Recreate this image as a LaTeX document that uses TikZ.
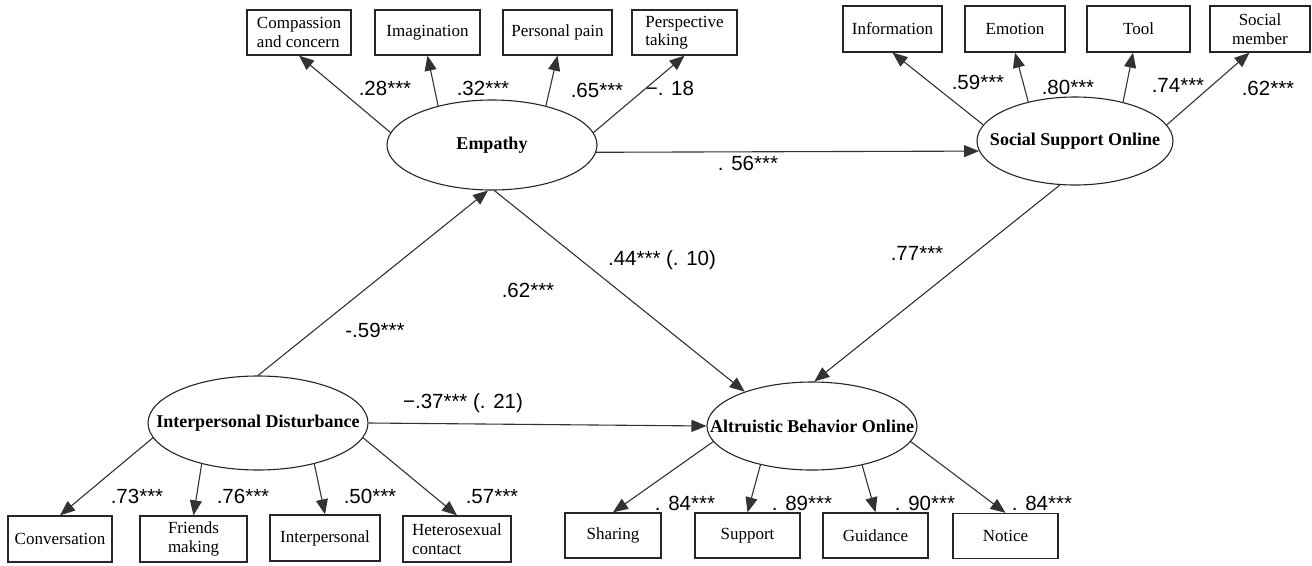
\documentclass[tikz,border=0pt]{standalone}
\usepackage{fontspec}
\setmainfont{Liberation Serif}
\newfontfamily\numfont{Liberation Sans}
\usetikzlibrary{shapes.geometric,arrows.meta}
\begin{document}
\begin{tikzpicture}[x=1pt,y=-1pt,
  lat/.style={ellipse,draw=black!85,line width=1.1pt,inner sep=0pt,font=\fontsize{18}{20}\selectfont\bfseries},
  obs/.style={rectangle,draw=black!85,line width=1.3pt,inner sep=0pt,minimum height=45pt,font=\fontsize{17}{18.5}\selectfont,align=center},
  conn/.style={draw=black!80,line width=1.1pt,-{Triangle[length=15pt,width=12pt]}},
  coef/.style={font=\numfont\fontsize{20.5}{22}\selectfont,inner sep=0pt}]
\fill[white] (0,0) rectangle (1312,565);
\useasboundingbox (0,0) rectangle (1312,565);

% latent variables
\node[lat,minimum width=210pt,minimum height=90pt] (emp) at (492,145) {\makebox[0pt]{Empathy}};
\node[lat,minimum width=196pt,minimum height=88pt] (ssup) at (1075,141) {\makebox[0pt]{Social Support Online}};
\node[lat,minimum width=220pt,minimum height=94pt] (id) at (258,423) {\makebox[0pt]{Interpersonal Disturbance}};
\node[lat,minimum width=210pt,minimum height=88pt] (abo) at (812,426) {\makebox[0pt]{Altruistic Behavior Online}};

% indicators: empathy
\node[obs,minimum width=104pt,align=left] (cc) at (299,32.5) {Compassion\\and concern};
\node[obs,minimum width=105pt] (im) at (427.5,32.5) {Imagination};
\node[obs,minimum width=109pt] (pp) at (557.5,32.5) {Personal pain};
\node[obs,minimum width=105pt,align=left] (pt) at (684.5,32.5) {Perspective\\taking};

% indicators: social support
\node[obs,minimum width=99pt,minimum height=46pt] (in) at (892.5,29) {Information};
\node[obs,minimum width=100pt,minimum height=46pt] (em) at (1015,29) {Emotion};
\node[obs,minimum width=103pt,minimum height=46pt] (tl) at (1138.5,29) {Tool};
\node[obs,minimum width=100pt,minimum height=46pt] (sm) at (1260,29) {Social\\member};

% indicators: interpersonal disturbance
\node[obs,minimum width=104pt,minimum height=46pt] (cv) at (60,539) {Conversation};
\node[obs,minimum width=107pt,minimum height=46pt] (fm) at (193.5,539) {Friends\\making};
\node[obs,minimum width=110pt,minimum height=46pt] (ip) at (325,538) {Interpersonal};
\node[obs,minimum width=108pt,minimum height=46pt,align=left] (hc) at (457,539) {Heterosexual\\contact};

% indicators: altruistic behavior
\node[obs,minimum width=96pt] (sh) at (613,535.5) {Sharing};
\node[obs,minimum width=105pt] (sp) at (747.5,535.5) {Support};
\node[obs,minimum width=105pt] (gd) at (875.5,535.5) {Guidance};
\node[obs,minimum width=105pt] (nt) at (1005.5,536) {Notice};

% connectors
\draw[conn] (emp.173) -- (cc.south);
\draw[conn] (emp.144) -- (im.south);
\draw[conn] (emp.36) -- (pp.south);
\draw[conn] (emp.7) -- (pt.south);
\draw[conn] (ssup.170) -- (in.south);
\draw[conn] (ssup.140) -- (em.south);
\draw[conn] (ssup.39) -- (tl.257);
\draw[conn] (ssup.10) -- (sm.246);
\draw[conn] (emp.-4) -- (ssup.186);
\draw[conn] (id.north) -- (emp.265);
\draw[conn] (emp.273) -- (abo.153);
\draw[conn] (ssup.251) -- (abo.87);
\draw[conn] (id.east) -- (abo.west);
\draw[conn] (id.188) -- (cv.north);
\draw[conn] (id.216) -- (fm.north);
\draw[conn] (id.324) -- (ip.north);
\draw[conn] (id.352) -- (hc.north);
\draw[conn] (abo.189) -- (sh.north);
\draw[conn] (abo.217) -- (sp.north);
\draw[conn] (abo.322) -- (gd.north);
\draw[conn] (abo.351) -- (nt.north);

% coefficients
\node[coef] (c1) at (385,88) {.28***};
\node[coef] (c2) at (483,88) {.32***};
\node[coef] (c3) at (597,90) {.65***};
\node[coef] (c4) at (670,88) {−. 18};
\node[coef] (c5) at (978,82) {.59***};
\node[coef] (c6) at (1068,87) {.80***};
\node[coef] (c7) at (1178,85) {.74***};
\node[coef] (c8) at (1268,88) {.62***};
\node[coef] (c9) at (748,163) {. 56***};
\node[coef] (c10) at (662,260) {.44*** (. 10)};
\node[coef] (c11) at (528,290) {.62***};
\node[coef] (c12) at (375,330) {-.59***};
\node[coef] (c13) at (917,253) {.77***};
\node[coef] (c14) at (463,403) {−.37*** (. 21)};
\node[coef] (c15) at (137,496) {.73***};
\node[coef] (c16) at (243,496) {.76***};
\node[coef] (c17) at (370,496) {.50***};
\node[coef] (c18) at (492,497) {.57***};
\node[coef] (c19) at (685,503) {. 84***};
\node[coef] (c20) at (802,503) {. 89***};
\node[coef] (c21) at (925,503) {. 90***};
\node[coef] (c22) at (1042,503) {. 84***};
\end{tikzpicture}
\end{document}
